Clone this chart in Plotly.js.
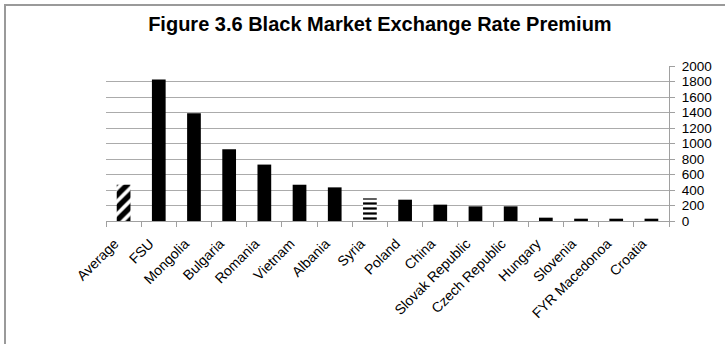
<!DOCTYPE html>
<html>
<head>
<meta charset="utf-8">
<script src="https://cdn.plot.ly/plotly-3.0.1.min.js"></script>
<style>
html,body{margin:0;padding:0;background:#fff;overflow:hidden;}
#wrap{position:relative;width:725px;height:344px;overflow:hidden;}
#chart{width:725px;height:344px;}
#frame{position:absolute;left:4px;top:4px;width:730px;height:350px;border-left:2px solid #9a9a9a;border-top:2px solid #9a9a9a;pointer-events:none;}
</style>
</head>
<body>
<div id="wrap"><div id="chart"></div><div id="frame"></div></div>
<script>
const categories = ["Average","FSU","Mongolia","Bulgaria","Romania","Vietnam","Albania","Syria","Poland","China","Slovak Republic","Czech Republic","Hungary","Slovenia","FYR Macedonoa","Croatia"];
const premium = [468, 1825, 1390, 925, 728, 468, 434, 292, 275, 211, 189, 189, 43, 30, 30, 30];
const patternShapes = ["/","","","","","","","-","","","","","","","",""];
const yTicks = [0,200,400,600,800,1000,1200,1400,1600,1800,2000];

const trace = {
  type: "bar",
  x: categories,
  y: premium,
  marker: {
    color: "#000000",
    line: {width: 0},
    pattern: {
      shape: patternShapes,
      fgcolor: "#000000",
      bgcolor: "#ffffff",
      fgopacity: 1,
      size: categories.map((c,i)=> patternShapes[i] === "-" ? 5 : 9),
      solidity: categories.map((c,i)=> patternShapes[i] === "-" ? 0.45 : 0.6),
      fillmode: "overlay"
    }
  },
  hoverinfo: "skip"
};

const layout = {
  width: 725, height: 344,
  margin: {l: 106, r: 56, t: 66, b: 123},
  paper_bgcolor: "#ffffff",
  plot_bgcolor: "#ffffff",
  showlegend: false,
  bargap: 0.61,
  font: {family: "Liberation Sans, Arial, sans-serif", color: "#000000", size: 13},
  title: {
    text: "<b>Figure 3.6 Black Market Exchange Rate Premium</b>",
    font: {family: "Liberation Sans, Arial, sans-serif", size: 20, color: "#000000"},
    x: 0.524, xanchor: "center",
    y: 0.93, yanchor: "middle"
  },
  xaxis: {
    type: "category",
    tickangle: -45,
    ticks: "outside",
    tickson: "boundaries",
    ticklen: 5,
    tickcolor: "#a0a0a0",
    showline: true,
    linecolor: "#a0a0a0",
    linewidth: 1,
    showgrid: false,
    ticklabelstandoff: 8,
    ticklabelshift: -9,
    tickfont: {size: 14}
  },
  yaxis: {
    side: "right",
    range: [0, 2000],
    tickvals: yTicks,
    ticktext: yTicks.map(String),
    ticks: "outside",
    ticklen: 5,
    tickcolor: "#a0a0a0",
    showline: true,
    linecolor: "#a0a0a0",
    linewidth: 1,
    showgrid: true,
    gridcolor: "#ababab",
    gridwidth: 1,
    zeroline: false,
    ticklabelstandoff: 4,
    tickfont: {size: 13.5}
  }
};

Plotly.newPlot("chart", [trace], layout, {staticPlot: true, displayModeBar: false});
</script>
</body>
</html>
